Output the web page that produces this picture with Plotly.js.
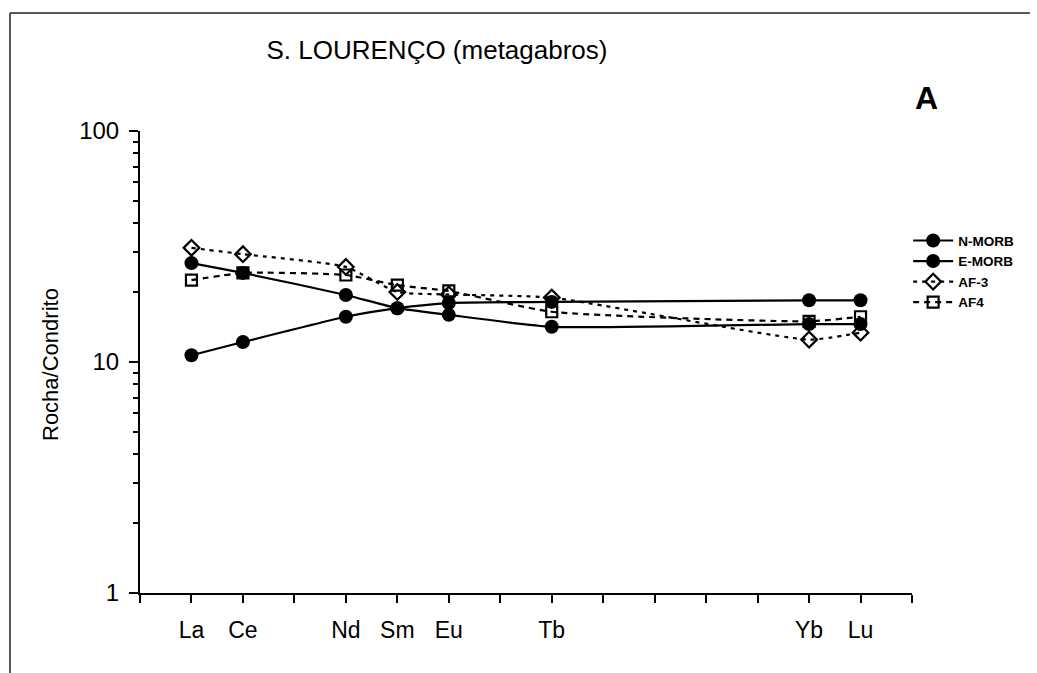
<!DOCTYPE html>
<html>
<head>
<meta charset="utf-8">
<script src="https://cdn.plot.ly/plotly-3.0.1.min.js"></script>
<style>html,body{margin:0;padding:0;background:#fff;}#chart{width:1037px;height:673px;}</style>
</head>
<body>
<div id="chart"></div>
<script>
// REE sequence defining the x axis order (positions 1..14)
var reeSequence = ['La','Ce','Pr','Nd','Sm','Eu','Gd','Tb','Dy','Ho','Er','Tm','Yb','Lu'];
// plotted elements
var categories = ['La','Ce','Nd','Sm','Eu','Tb','Yb','Lu'];
// chondrite-normalised values
var nMorb = [10.7, 12.2, 15.7, 17.1, 18.0, 18.2, 18.5, 18.5];
var eMorb = [26.8, 24.3, 19.5, 17.1, 16.0, 14.2, 14.6, 14.6];
var af3   = [31.2, 29.3, 25.8, 20.1, 19.6, 19.0, 12.5, 13.4];
var af4   = [22.6, 24.3, 23.8, 21.5, 20.3, 16.5, 15.0, 15.7];
var yTickVals = [1, 10, 100];
var yTickText = ['1', '10', '100'];

var xs = categories.map(function(c){ return reeSequence.indexOf(c) + 1; });
var xTickVals = [];
var xTickText = [];
for (var i = 0; i <= reeSequence.length + 1; i++) {
  xTickVals.push(i);
  var el = reeSequence[i - 1];
  xTickText.push(el && categories.indexOf(el) >= 0 ? el : '');
}
var minorVals = [];
[1, 10].forEach(function(d){ for (var k = 2; k <= 9; k++) minorVals.push(k * d); });

var traces = [
  {name:'N-MORB', x:xs, y:nMorb, mode:'lines+markers', line:{color:'#000', width:2.2, shape:'spline', smoothing:0.5},
   marker:{symbol:'circle', size:14, color:'#000'}},
  {name:'E-MORB', x:xs, y:eMorb, mode:'lines+markers', line:{color:'#000', width:2.2, shape:'spline', smoothing:0.5},
   marker:{symbol:'circle', size:14, color:'#000'}},
  {name:'AF-3', x:xs, y:af3, mode:'lines+markers', line:{color:'#000', width:2.2, dash:'4px,5px', shape:'spline', smoothing:0.5},
   marker:{symbol:'diamond-open', size:12, color:'#000', line:{width:2.2, color:'#000'}}},
  {name:'AF4', x:xs, y:af4, mode:'lines+markers', line:{color:'#000', width:2.2, dash:'6px,5px', shape:'spline', smoothing:0.5},
   marker:{symbol:'square-open', size:11, color:'#000', line:{width:2.2, color:'#000'}}}
];

var layout = {
  width:1037, height:673,
  margin:{l:140, r:125, t:131, b:80},
  paper_bgcolor:'#fff', plot_bgcolor:'#fff',
  font:{family:'Arial, Liberation Sans, sans-serif', color:'#000'},
  title:{text:'S. LOURENÇO (metagabros)', font:{size:26, color:'#000'}, x:437/1037, xanchor:'center', y:1-50/673, yanchor:'middle'},
  showlegend:true,
  legend:{x:0.995, xanchor:'left', y:0.796, yanchor:'top', bgcolor:'rgba(0,0,0,0)',
          font:{size:13.5, weight:'bold', color:'#000'}, tracegroupgap:0, itemwidth:40},
  xaxis:{range:[0, 15], showgrid:false, zeroline:false, showline:true, linecolor:'#000', linewidth:2,
         ticks:'outside', ticklen:8, tickwidth:2, tickcolor:'#000',
         tickmode:'array', tickvals:xTickVals, ticktext:xTickText,
         tickfont:{size:23, color:'#000'}, ticklabelstandoff:7},
  yaxis:{type:'log', range:[0, 2], showgrid:false, zeroline:false, showline:true, linecolor:'#000', linewidth:2,
         ticks:'outside', ticklen:9, tickwidth:2, tickcolor:'#000',
         tickmode:'array', tickvals:yTickVals, ticktext:yTickText,
         tickfont:{size:24, color:'#000'}, ticklabelstandoff:5,
         minor:{tickmode:'array', tickvals:minorVals, ticks:'outside', ticklen:5, tickwidth:2, tickcolor:'#000', showgrid:false}},
  annotations:[
    {text:'Rocha/Condrito', textangle:-90, xref:'paper', yref:'paper', x:(50-140)/772, y:(593-365)/462,
     xanchor:'center', yanchor:'middle', showarrow:false, font:{size:22, color:'#000'}},
    {text:'<b>A</b>', xref:'paper', yref:'paper', x:(926-140)/772, y:(593-98)/462,
     xanchor:'center', yanchor:'middle', showarrow:false, font:{size:32, color:'#000'}}
  ],
  shapes:[
    {type:'line', xref:'paper', yref:'paper', x0:(10-140)/772, x1:(1030-140)/772, y0:(593-13)/462, y1:(593-13)/462,
     line:{color:'#222', width:1.5}},
    {type:'line', xref:'paper', yref:'paper', x0:(10-140)/772, x1:(10-140)/772, y0:(593-13)/462, y1:(593-673)/462,
     line:{color:'#222', width:1.5}}
  ]
};

Plotly.newPlot('chart', traces, layout, {displayModeBar:false, staticPlot:true});
</script>
</body>
</html>
